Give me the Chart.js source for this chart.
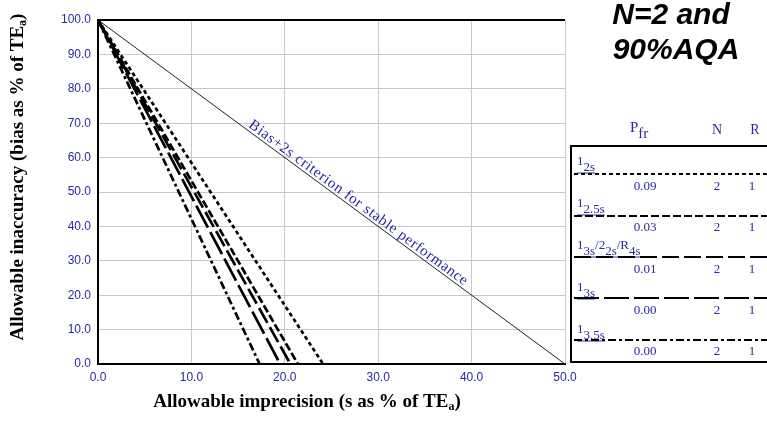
<!DOCTYPE html>
<html><head><meta charset="utf-8">
<script src="https://cdn.jsdelivr.net/npm/chart.js@4/dist/chart.umd.min.js"></script>
<style>html,body{margin:0;padding:0;background:#fff}canvas{display:block}</style>
</head><body>
<canvas id="c" width="767" height="430"></canvas>
<script>
// ---- data ----
const ruleLabels = [
  [['1','2s']],
  [['1','2.5s']],
  [['1','3s'],['/2','2s'],['/R','4s']],
  [['1','3s']],
  [['1','3.5s']]
];
const xIntercepts = [24.1, 21.4, 20.6, 19.5, 17.3]; // allowable s at bias 0
const yIntercept = 100.0;                           // all lines start at (0,100)
const pfr = ['0.09','0.03','0.01','0.00','0.00'];
const nVals = ['2','2','2','2','2'];
const rVals = ['1','1','1','1','1'];
const dashes = [[4,3],[8,3],[17,5],[25,5],[8,3,3,3]];
const stableLine = [{x:0,y:100},{x:50,y:0}];
const xTicks = [0,10,20,30,40,50];
const yTicks = [0,10,20,30,40,50,60,70,80,90,100];

const BLUE = '#2a2aa0';
const datasets = xIntercepts.map((xi,i)=>({
  data:[{x:0,y:yIntercept},{x:xi,y:0}],
  showLine:true, borderColor:'#000', borderWidth:2.7, borderDash:dashes[i],
  pointRadius:0, fill:false
}));
datasets.push({data:stableLine, showLine:true, borderColor:'#222', borderWidth:1, pointRadius:0});

function subText(ctx, parts, x, y, size, color){
  ctx.fillStyle=color; ctx.textAlign='left'; ctx.textBaseline='alphabetic';
  let cx=x;
  ctx.font=size+'px "Liberation Serif"';
  for(const [main,sub] of parts){
    ctx.fillText(main,cx,y); cx+=ctx.measureText(main).width;
    ctx.fillText(sub,cx,y+6); cx+=ctx.measureText(sub).width;
  }
  return cx;
}

function titleWithSub(ctx, main, size, subSize){
  ctx.font='bold '+size+'px "Liberation Serif"';
  const w1=ctx.measureText(main).width, wp=ctx.measureText(')').width;
  ctx.font='bold '+subSize+'px "Liberation Serif"';
  const wa=ctx.measureText('a').width;
  const sx=-(w1+wa+wp)/2;
  ctx.font='bold '+size+'px "Liberation Serif"';
  ctx.fillText(main,sx,0);
  ctx.font='bold '+subSize+'px "Liberation Serif"';
  ctx.fillText('a',sx+w1,5);
  ctx.font='bold '+size+'px "Liberation Serif"';
  ctx.fillText(')',sx+w1+wa,0);
}

const deco = {
  id:'deco',
  afterDraw(chart){
    const ctx=chart.ctx, xs=chart.scales.x, ys=chart.scales.y, a=chart.chartArea;
    ctx.save();
    // top border
    ctx.strokeStyle='#000'; ctx.lineWidth=2; ctx.setLineDash([]);
    ctx.beginPath(); ctx.moveTo(a.left,a.top); ctx.lineTo(a.right,a.top); ctx.stroke();
    // diagonal label
    const p0x=xs.getPixelForValue(0), p0y=ys.getPixelForValue(100);
    const p1x=xs.getPixelForValue(50), p1y=ys.getPixelForValue(0);
    const ang=Math.atan2(p1y-p0y,p1x-p0x);
    const mx=xs.getPixelForValue(27.4), my=ys.getPixelForValue(100-2*27.4);
    ctx.translate(mx,my); ctx.rotate(ang);
    ctx.font='15px "Liberation Serif"'; ctx.fillStyle=BLUE; ctx.textAlign='left'; ctx.textBaseline='alphabetic';
    const lbl='Bias+2s criterion for stable performance';
    const w0=ctx.measureText(lbl).width;
    const target=268;
    const ls=(target-w0)/(lbl.length-1);
    ctx.letterSpacing=ls+'px';
    ctx.fillText(lbl,-target/2,-3);
    ctx.letterSpacing='0px';
    ctx.restore();

    ctx.save();
    // title
    ctx.font='italic bold 30px "Liberation Sans"'; ctx.fillStyle='#000'; ctx.textAlign='center'; ctx.textBaseline='middle';
    ctx.fillText('N=2 and',671,16);
    ctx.fillText('90%AQA',676,51);
    // axis titles
    ctx.textBaseline='middle'; ctx.textAlign='left';
    ctx.save(); ctx.translate(307,402); titleWithSub(ctx,'Allowable imprecision (s as % of TE',19,12); ctx.restore();
    ctx.save(); ctx.translate(18,177); ctx.rotate(-Math.PI/2); titleWithSub(ctx,'Allowable inaccuracy (bias as % of TE',19,12); ctx.restore();

    // legend
    subText(ctx,[['P','fr']],630,132,15,BLUE);
    ctx.fillStyle=BLUE; ctx.font='14px "Liberation Serif"'; ctx.textAlign='center'; ctx.textBaseline='alphabetic';
    ctx.fillText('N',717,134); ctx.fillText('R',755,134);
    ctx.strokeStyle='#000'; ctx.lineWidth=2; ctx.setLineDash([]);
    ctx.strokeRect(571,146,200,216);
    const labY=[165,207,249,291,333], lineY=[174,216,257,298,340], valY=[190,231,273,314,355];
    for(let i=0;i<5;i++){
      const end=subText(ctx,ruleLabels[i],577,labY[i],13,BLUE);
      ctx.strokeStyle=BLUE; ctx.lineWidth=1; ctx.setLineDash([]);
      ctx.beginPath(); ctx.moveTo(577,labY[i]+8); ctx.lineTo(end,labY[i]+8); ctx.stroke();
      ctx.strokeStyle='#000'; ctx.lineWidth=2; ctx.setLineDash(dashes[i]);
      ctx.beginPath(); ctx.moveTo(574,lineY[i]); ctx.lineTo(767,lineY[i]); ctx.stroke();
      ctx.setLineDash([]);
      ctx.fillStyle=BLUE; ctx.font='13px "Liberation Serif"'; ctx.textAlign='center';
      ctx.fillText(pfr[i],645,valY[i]); ctx.fillText(nVals[i],717,valY[i]); ctx.fillText(rVals[i],752,valY[i]);
    }
    ctx.restore();
  }
};

new Chart(document.getElementById('c'),{
  type:'scatter',
  data:{datasets},
  options:{
    responsive:false, animation:false, events:[],
    layout:{padding:{left:0,right:202,top:20,bottom:0}},
    plugins:{legend:{display:false},tooltip:{enabled:false}},
    scales:{
      x:{type:'linear',min:0,max:50,
        afterBuildTicks:s=>{s.ticks=xTicks.map(v=>({value:v}));},
        ticks:{callback:v=>Number(v).toFixed(1),color:BLUE,font:{family:'"Liberation Sans"',size:12},padding:6,maxRotation:0},
        grid:{color:'#c8c8c8',drawTicks:false,lineWidth:1},
        border:{color:'#000',width:2},
        afterFit:s=>{s.height=66;}
      },
      y:{type:'linear',min:0,max:100,
        afterBuildTicks:s=>{s.ticks=yTicks.map(v=>({value:v}));},
        ticks:{callback:v=>Number(v).toFixed(1),color:BLUE,font:{family:'"Liberation Sans"',size:12},padding:7},
        grid:{color:'#c8c8c8',drawTicks:false,lineWidth:1},
        border:{color:'#000',width:2},
        afterFit:s=>{s.width=98;}
      }
    }
  },
  plugins:[deco]
});
</script>
</body></html>
